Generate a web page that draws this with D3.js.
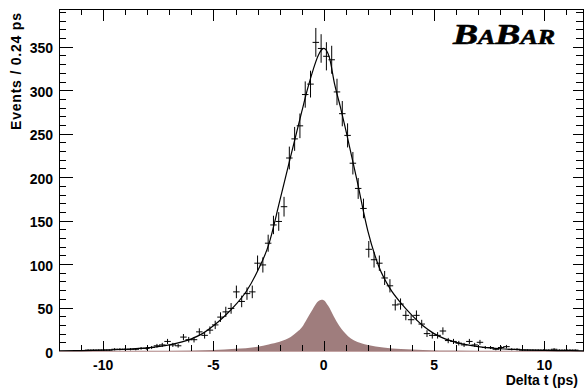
<!DOCTYPE html>
<html><head><meta charset="utf-8">
<script src="https://cdn.jsdelivr.net/npm/d3@7"></script>
<style>html,body{margin:0;padding:0;background:#fff;overflow:hidden}</style>
</head><body><svg id="c" width="584" height="389"></svg>
<script>
// ---- data ----
const binCenters = [-10.68,-10.44,-10.20,-9.96,-9.72,-9.48,-9.24,-9.00,-8.76,-8.52,-8.28,-8.04,-7.80,-7.56,-7.32,-7.08,-6.84,-6.60,-6.36,-6.12,-5.88,-5.64,-5.40,-5.16,-4.92,-4.68,-4.44,-4.20,-3.96,-3.72,-3.48,-3.24,-3.00,-2.76,-2.52,-2.28,-2.04,-1.80,-1.56,-1.32,-1.08,-0.84,-0.60,-0.36,-0.12,0.12,0.36,0.60,0.84,1.08,1.32,1.56,1.80,2.04,2.28,2.52,2.76,3.00,3.24,3.48,3.72,3.96,4.20,4.44,4.68,4.92,5.16,5.40,5.64,5.88,6.12,6.36,6.60,6.84,7.08,7.32,7.56,7.80,8.04,8.28,8.52,8.76,9.00,9.24,9.48,9.72,9.96,10.20,10.44,10.68,10.92,11.16,11.40];
const counts = [1,1,1,1,1,2,2,2,2,2,3,3,4,6,7,11,7,6,16,13,13,22,18,24,30,39,45,49,68,57,66,68,101,99,124,145,149,166,222,244,259,295,307,355,348,339,335,298,273,248,216,187,164,117,105,101,84,75,53,54,41,36,41,31,20,18,18,23,12,11,9,7,11,7,10,4,4,2,4,5,2,2,1,1,1,1,1,1,2,1,1,1,1];
const fitX = [-12,-11,-10,-9,-8,-7,-6,-5.5,-5,-4.5,-4,-3.5,-3,-2.5,-2,-1.5,-1,-0.75,-0.5,-0.25,0,0.25,0.5,0.75,1,1.5,2,2.5,3,3.5,4,4.5,5,5.5,6,7,8,9,10,11,12];
const fitY = [0.3,0.5,1,2,3.5,7,14,20,29,40,53,69,92,122,172,224,275,300,322,340,348,338,306,281,254,197,138,97,72,55,41,29,20,14,10,5,2.6,1.3,0.7,0.4,0.2];
const bkgX = [-12,-8,-6,-5,-4,-3,-2.5,-2,-1.5,-1.2,-1,-0.75,-0.5,-0.3,-0.1,0,0.2,0.45,0.7,0.91,1.1,1.36,1.7,2,2.7,3.5,4.5,6,8,12];
const bkgY = [0,0.2,0.6,1.2,2.5,5,7.5,10.5,16,22,27,37.5,48,56,59,58.5,52,40,29,22,17,12.5,9,7,4,2.3,1.2,0.5,0.2,0];
const xMajorTicks = [-10,-5,0,5,10];
const yMajorTicks = [0,50,100,150,200,250,300,350];
const xTitle = "Delta t (ps)";
const yTitle = "Events / 0.24 ps";
const binWidth = 0.24;

// ---- drawing ----
const svg = d3.select("#c");
svg.append("rect").attr("width",584).attr("height",389).attr("fill","#fff");
const x = d3.scaleLinear().domain([-12, 11.75]).range([59, 583]);
const y = d3.scaleLinear().domain([0, 393.4]).range([351, 9]);
const X0 = 59, X1 = 583, Y0 = 351, Y1 = 9;

// background component fill
const area = d3.area().x((d,i)=>x(bkgX[i])).y0(y(0)).y1((d,i)=>y(bkgY[i])).curve(d3.curveMonotoneX);
svg.append("path").attr("d", area(bkgX)).attr("fill","#9f7d7d");

// frame
const g = svg.append("g").attr("stroke","#000").attr("stroke-width",1).attr("shape-rendering","crispEdges");
g.append("line").attr("x1",X0+0.5).attr("x2",X0+0.5).attr("y1",Y1).attr("y2",Y0+1);
g.append("line").attr("x1",X0).attr("x2",584).attr("y1",Y1+0.5).attr("y2",Y1+0.5);
g.append("line").attr("x1",X1+0.5).attr("x2",X1+0.5).attr("y1",Y1).attr("y2",Y0+1);
// bottom baseline (pinkish, as drawn by the fill edge)
svg.append("line").attr("x1",X0).attr("x2",X1+1).attr("y1",Y0+0.5).attr("y2",Y0+0.5)
  .attr("stroke","#c4a4a4").attr("shape-rendering","crispEdges");

// x ticks
const xMinor = d3.range(-11, 12, 1);
xMinor.forEach(v=>{
  const px = Math.round(x(v))+0.5;
  const major = xMajorTicks.includes(v);
  g.append("line").attr("x1",px).attr("x2",px).attr("y1",Y0).attr("y2",Y0-(major?10:6));
  g.append("line").attr("x1",px).attr("x2",px).attr("y1",Y1).attr("y2",Y1+(major?12:6));
});
// y ticks
const yMinor = d3.range(0, 391, 10);
yMinor.forEach(v=>{
  const py = Math.round(y(v))+0.5;
  const major = yMajorTicks.includes(v);
  g.append("line").attr("x1",X0).attr("x2",X0+(major?14:7)).attr("y1",py).attr("y2",py);
  g.append("line").attr("x1",X1+1).attr("x2",X1+1-(major?11:8)).attr("y1",py).attr("y2",py);
});

const font = "'Liberation Sans', Arial, Helvetica, sans-serif";
// tick labels
svg.selectAll(".xl").data(xMajorTicks).enter().append("text")
  .attr("x",d=>x(d)).attr("y",370).attr("text-anchor","middle")
  .attr("font-family",font).attr("font-weight","bold").attr("font-size",14)
  .text(d=>String(d));
svg.selectAll(".yl").data(yMajorTicks).enter().append("text")
  .attr("x",53).attr("y",d=>y(d)+6.5).attr("text-anchor","end")
  .attr("font-family",font).attr("font-weight","bold").attr("font-size",14)
  .text(d=>String(d));
// axis titles
svg.append("text").attr("x",578).attr("y",385).attr("text-anchor","end")
  .attr("font-family",font).attr("font-weight","bold").attr("font-size",14).text(xTitle);
svg.append("text").attr("transform","translate(21,13) rotate(-90)").attr("text-anchor","end")
  .attr("font-family",font).attr("font-weight","bold").attr("font-size",14)
  .attr("textLength",117).attr("lengthAdjust","spacing").text(yTitle);

// fit curve
const line = d3.line().x((d,i)=>x(fitX[i])).y((d,i)=>y(fitY[i])).curve(d3.curveMonotoneX);
svg.append("path").attr("d", line(fitX)).attr("fill","none").attr("stroke","#000").attr("stroke-width",1.2);

// data points with error bars
const ERR_SCALE = 0.88;
const pts = svg.append("g").attr("stroke","#000").attr("stroke-width",1);
binCenters.forEach((c,i)=>{
  const n = counts[i];
  const e = Math.sqrt(n)*ERR_SCALE;
  const px = x(c);
  pts.append("line").attr("x1",px).attr("x2",px).attr("y1",y(Math.max(0,n-e))).attr("y2",y(n+e));
  pts.append("line").attr("x1",x(c-binWidth/2)-0.6).attr("x2",x(c+binWidth/2)+0.6).attr("y1",y(n)).attr("y2",y(n));
});

// BaBar logo
const logo = svg.append("text").attr("x",453).attr("y",44)
  .attr("font-family","'Liberation Serif','Times New Roman',serif").attr("font-weight","bold").attr("font-style","italic")
  .attr("stroke","#000").attr("stroke-width",0.6)
  .attr("textLength",102).attr("lengthAdjust","spacingAndGlyphs");
logo.append("tspan").attr("font-size",29).text("B");
logo.append("tspan").attr("font-size",20).text("A");
logo.append("tspan").attr("font-size",29).text("B");
logo.append("tspan").attr("font-size",20).text("AR");
</script></body></html>
